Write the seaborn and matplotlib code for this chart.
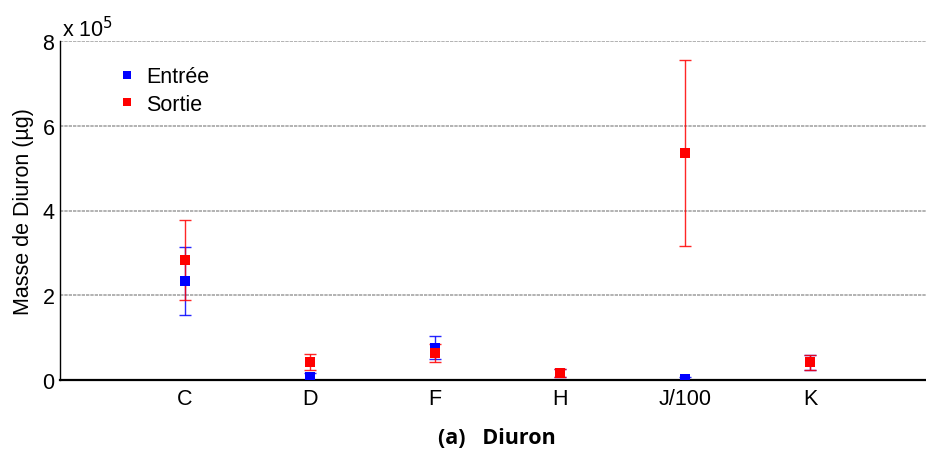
import matplotlib
matplotlib.use("Agg")
import numpy as np
import pandas as pd
import seaborn as sns
import matplotlib.pyplot as plt
from matplotlib.ticker import FuncFormatter

# ---- data ----
categories = ["C", "D", "F", "H", "J/100", "K"]
entree = [2.34e5, 0.07e5, 0.77e5, 0.165e5, 0.04e5, 0.42e5]
entree_err = [0.80e5, 0.09e5, 0.28e5, 0.09e5, 0.03e5, 0.18e5]
sortie = [2.83e5, 0.42e5, 0.64e5, 0.17e5, 5.36e5, 0.42e5]
sortie_err = [0.94e5, 0.19e5, 0.21e5, 0.09e5, 2.20e5, 0.175e5]
series_names = ["Entrée", "Sortie"]
yticks = [0, 2e5, 4e5, 6e5, 8e5]

sns.set_style("white")
plt.rcParams["font.family"] = ["Liberation Sans", "DejaVu Sans"]
plt.rcParams["text.color"] = "black"
plt.rcParams["axes.labelcolor"] = "black"
plt.rcParams["xtick.color"] = "black"
plt.rcParams["ytick.color"] = "black"
FS = 15.5

pos = np.arange(1, len(categories) + 1)
df = pd.DataFrame({
    "pos": np.concatenate([pos, pos]),
    "val": entree + sortie,
    "err": entree_err + sortie_err,
    "serie": [series_names[0]] * len(pos) + [series_names[1]] * len(pos),
})
palette = {"Entrée": "#0000ff", "Sortie": "#ff0000"}

fig = plt.figure(figsize=(9.26, 4.6), dpi=100)
W, H = 926, 460
ax = fig.add_axes([60 / W, 1 - 381 / H, 875 / W, 339 / H])

# error bars
for name in series_names:
    sub = df[df["serie"] == name]
    ax.errorbar(sub["pos"], sub["val"], yerr=sub["err"], fmt="none",
                ecolor=palette[name], elinewidth=1.0, capsize=4.6,
                capthick=1.0, alpha=0.85, zorder=2)

sns.scatterplot(data=df, x="pos", y="val", hue="serie", palette=palette,
                marker="s", s=46, linewidth=0, ax=ax, zorder=3, legend=True)

ax.set_xlim(0, 7)
ax.set_ylim(0, 8e5)
ax.set_xticks(pos)
ax.set_xticklabels(categories)
ax.set_yticks(yticks)
ax.yaxis.set_major_formatter(FuncFormatter(lambda v, p: f"{v / 1e5:g}"))
ax.set_xlabel("")
ax.set_ylabel("Masse de Diuron (µg)", fontsize=FS, labelpad=6, color="black")

for y in yticks[1:]:
    ax.axhline(y, color="#a6a6a6", lw=1.2, ls=(0, (2, 0.6)), zorder=1)

ax.tick_params(axis="x", direction="in", length=6, width=1, color="#404040",
               labelsize=FS, pad=6, labelcolor="black")
ax.tick_params(axis="y", direction="in", length=4, width=1, color="#202020",
               labelsize=FS, pad=4, labelcolor="black")
for s in ["top", "right"]:
    ax.spines[s].set_visible(False)
ax.spines["left"].set_color("black")
ax.spines["left"].set_linewidth(1.0)
ax.spines["bottom"].set_color("black")
ax.spines["bottom"].set_linewidth(1.6)

handles, labels = ax.get_legend_handles_labels()
leg = ax.legend(handles, labels, loc="upper left",
                bbox_to_anchor=(97 / W, 1 - 48 / H), bbox_transform=fig.transFigure,
                frameon=False, fontsize=FS, handlelength=1.0, handletextpad=0.4,
                labelspacing=0.3, markerscale=0.85)
for t in leg.get_texts():
    t.set_color("black")

fig.text(62 / W, 1 - 37 / H, r"x 10$^5$", fontsize=FS, ha="left", va="baseline",
         color="black")
fig.text(497 / W, 1 - 438 / H, "(a)   Diuron", fontsize=15.5, fontweight="bold",
         family=["Open Sans", "DejaVu Sans"], ha="center", va="center",
         color="black")

fig.savefig("out.png", dpi=100)
